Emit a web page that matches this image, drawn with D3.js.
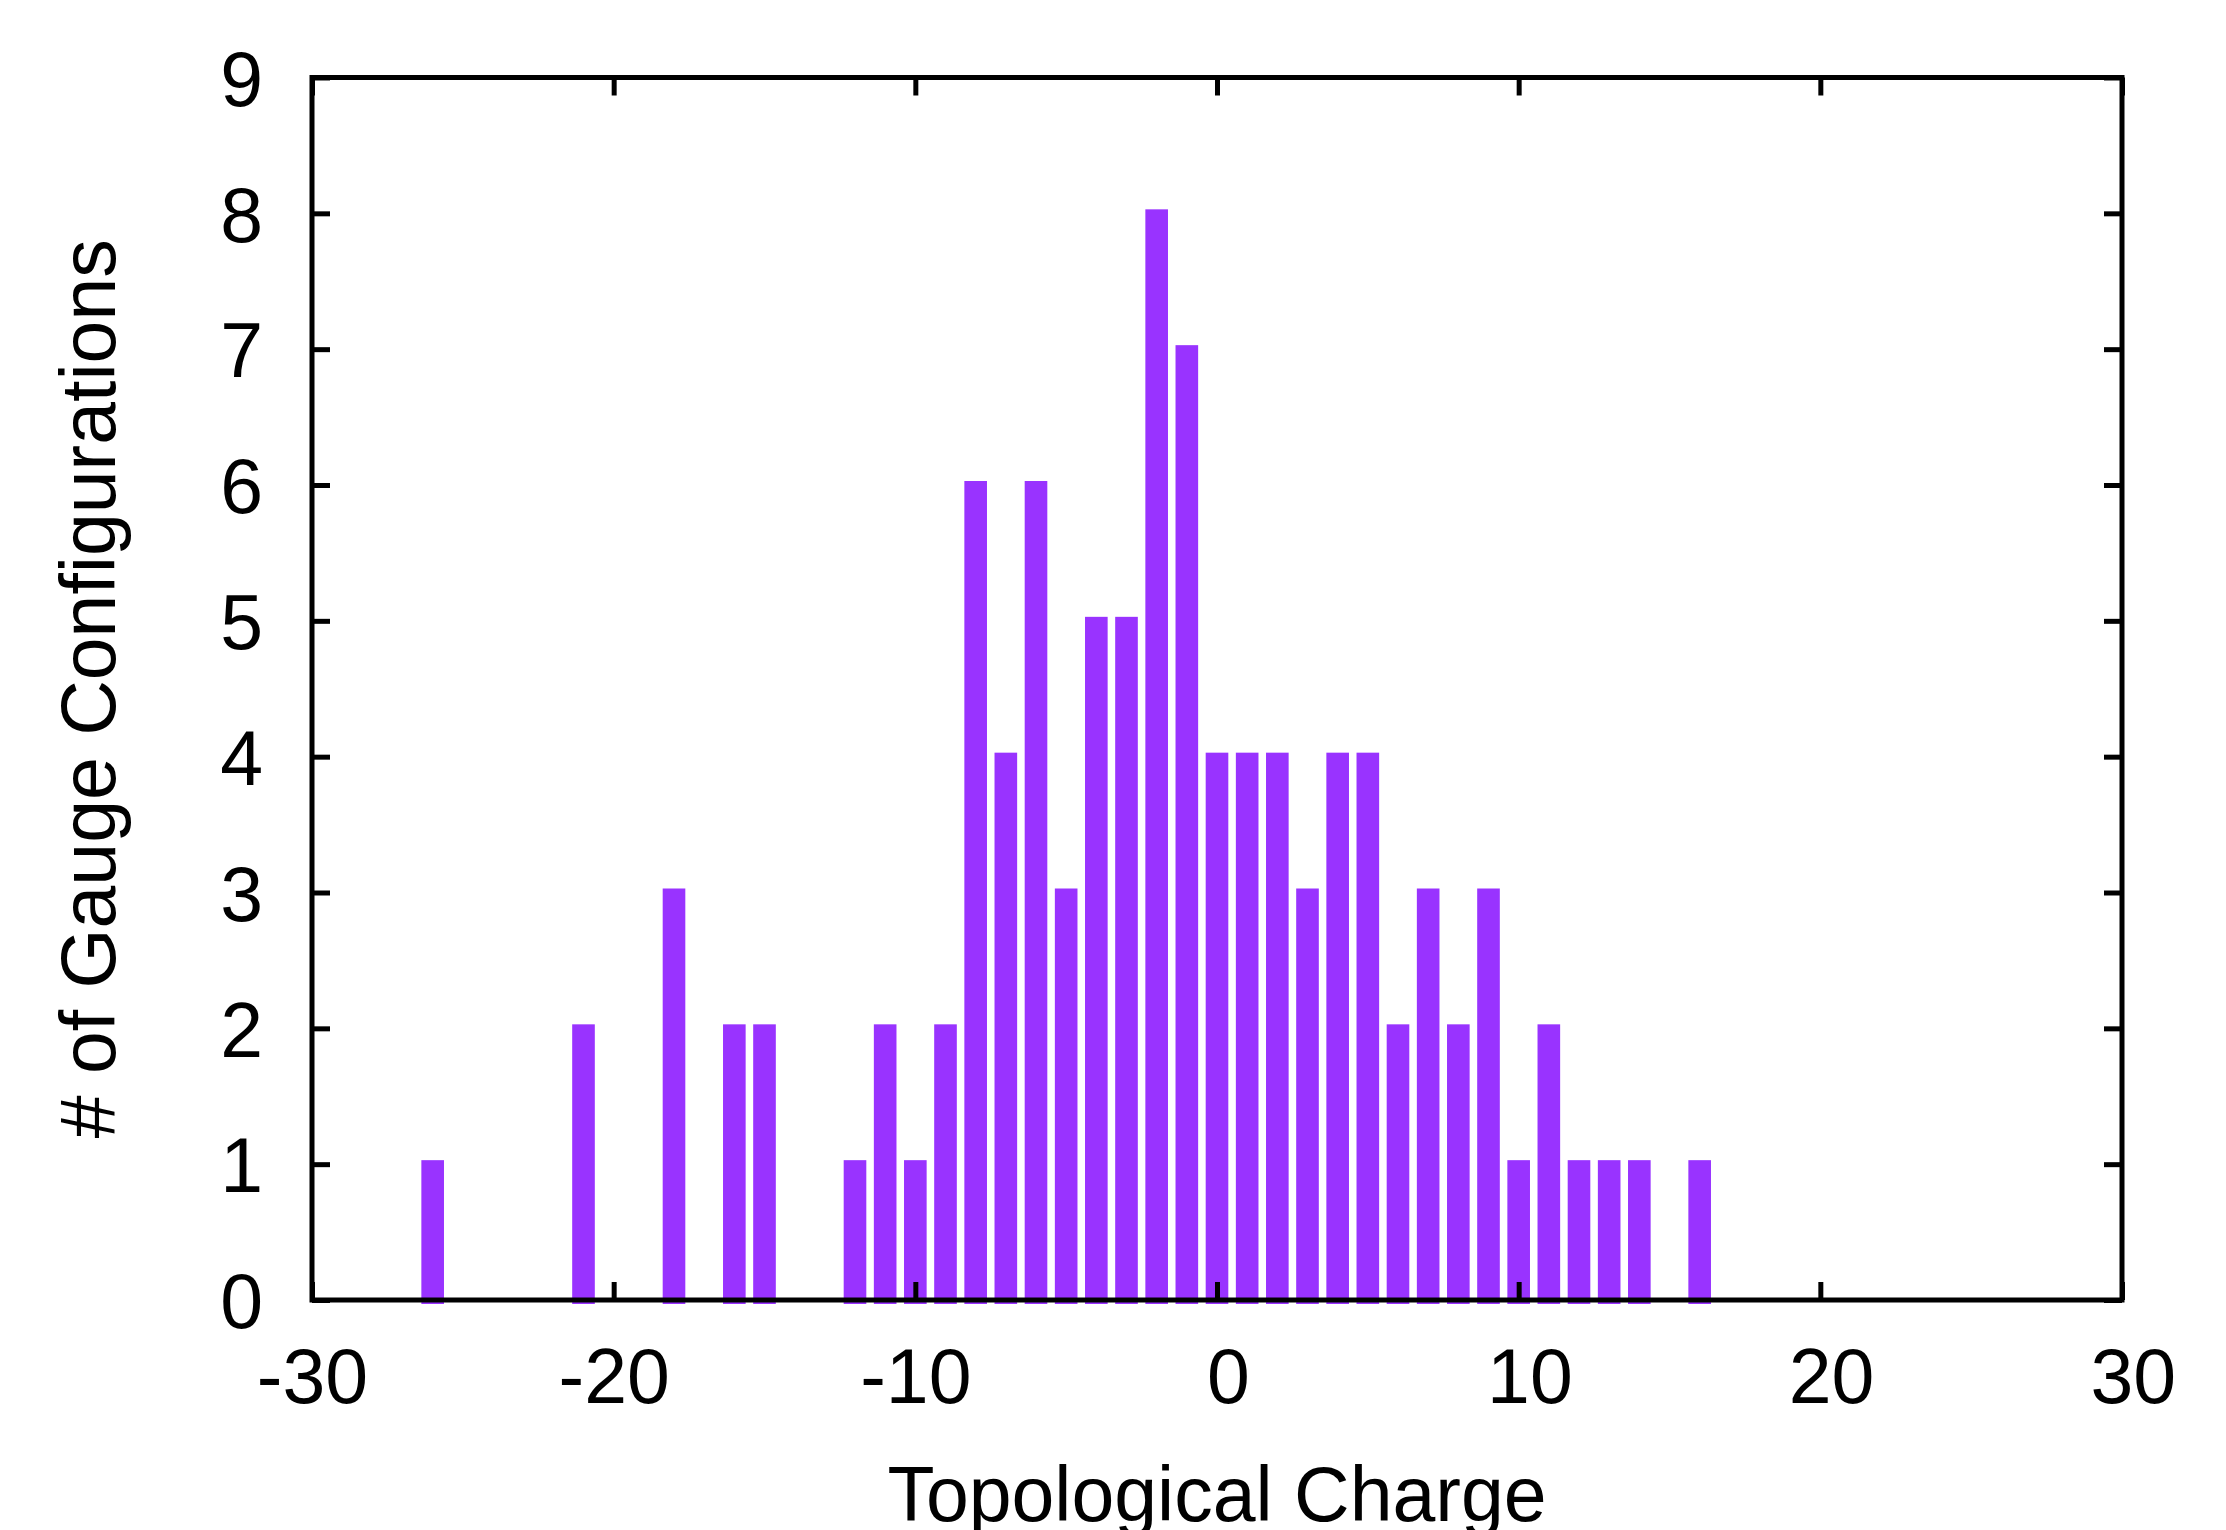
<!DOCTYPE html>
<html>
<head>
<meta charset="utf-8">
<script src="https://cdn.jsdelivr.net/npm/d3@7"></script>
<style>
    html, body { margin: 0; padding: 0; background: #fff; }
    svg { display: block; }
    text { font-family: "Liberation Sans", Arial, Helvetica, sans-serif; fill: #000; }
</style>
</head>
<body>
<div id="chart"></div>
<script>
// histogram of topological charge
const charges = [-26, -21, -18, -16, -15, -12, -11, -10, -9, -8, -7, -6, -5, -4, -3, -2, -1,
    0, 1, 2, 3, 4, 5, 6, 7, 8, 9, 10, 11, 12, 13, 14, 16];
const counts = [1, 2, 3, 2, 2, 1, 2, 1, 2, 6, 4, 6, 3, 5, 5, 8, 7,
    4, 4, 4, 3, 4, 4, 2, 3, 2, 3, 1, 2, 1, 1, 1, 1];
const xTicks = [-30, -20, -10, 0, 10, 20, 30];
const yTicks = [0, 1, 2, 3, 4, 5, 6, 7, 8, 9];

const width = 2226, height = 1530;
const margin = { top: 77.5, right: 104, bottom: 230, left: 312 };
const barWidth = 0.75; // in charge units
const fontSize = 77;

const svg = d3.select("#chart").append("svg")
    .attr("width", width)
    .attr("height", height);

const x = d3.scaleLinear().domain([-30, 30]).range([margin.left, width - margin.right]);
const y = d3.scaleLinear().domain([0, 9]).range([height - margin.bottom, margin.top]);

const data = charges.map((c, i) => ({ charge: c, count: counts[i] }));

// bars
svg.append("g")
    .selectAll("rect")
    .data(data)
    .enter().append("rect")
    .attr("x", d => x(d.charge - barWidth / 2))
    .attr("width", x(barWidth) - x(0))
    .attr("y", d => y(d.count) - 4)
    .attr("height", d => y(0) - y(d.count) + 8)
    .attr("fill", "#9933ff");

// axes, ticks pointing inward on all four sides
function styleAxis(g) {
    g.select(".domain").remove();
    g.selectAll(".tick line").attr("stroke", "#000").attr("stroke-width", 5);
    g.selectAll(".tick text")
        .attr("font-size", fontSize)
        .attr("font-family", "Liberation Sans, Arial, sans-serif");
}

const plain = d => String(d); // hyphen minus, like the original

svg.append("g")
    .attr("transform", `translate(0,${y(0)})`)
    .call(d3.axisBottom(x).tickValues(xTicks).tickFormat(plain)
        .tickSizeInner(-18).tickSizeOuter(0).tickPadding(48))
    .call(styleAxis)
    .call(g => g.selectAll(".tick text").attr("dx", d => d >= 0 ? "0.14em" : 0));

svg.append("g")
    .attr("transform", `translate(0,${y(9)})`)
    .call(d3.axisTop(x).tickValues(xTicks).tickSizeInner(-18).tickSizeOuter(0).tickFormat(""))
    .call(styleAxis);

svg.append("g")
    .attr("transform", `translate(${x(-30)},0)`)
    .call(d3.axisLeft(y).tickValues(yTicks).tickFormat(plain)
        .tickSizeInner(-18).tickSizeOuter(0).tickPadding(49))
    .call(styleAxis)
    .call(g => g.selectAll(".tick text").attr("dy", "0.36em"));

svg.append("g")
    .attr("transform", `translate(${x(30)},0)`)
    .call(d3.axisRight(y).tickValues(yTicks).tickSizeInner(-18).tickSizeOuter(0).tickFormat(""))
    .call(styleAxis);

// frame
svg.append("rect")
    .attr("x", x(-30))
    .attr("y", y(9))
    .attr("width", x(30) - x(-30))
    .attr("height", y(0) - y(9))
    .attr("fill", "none")
    .attr("stroke", "#000")
    .attr("stroke-width", 5);

// axis titles
svg.append("text")
    .attr("x", (x(-30) + x(30)) / 2)
    .attr("y", 1521)
    .attr("text-anchor", "middle")
    .attr("font-size", fontSize)
    .text("Topological Charge");

svg.append("text")
    .attr("transform", `translate(115,${(y(0) + y(9)) / 2}) rotate(-90)`)
    .attr("text-anchor", "middle")
    .attr("font-size", fontSize)
    .text("# of Gauge Configurations");
</script>
</body>
</html>
